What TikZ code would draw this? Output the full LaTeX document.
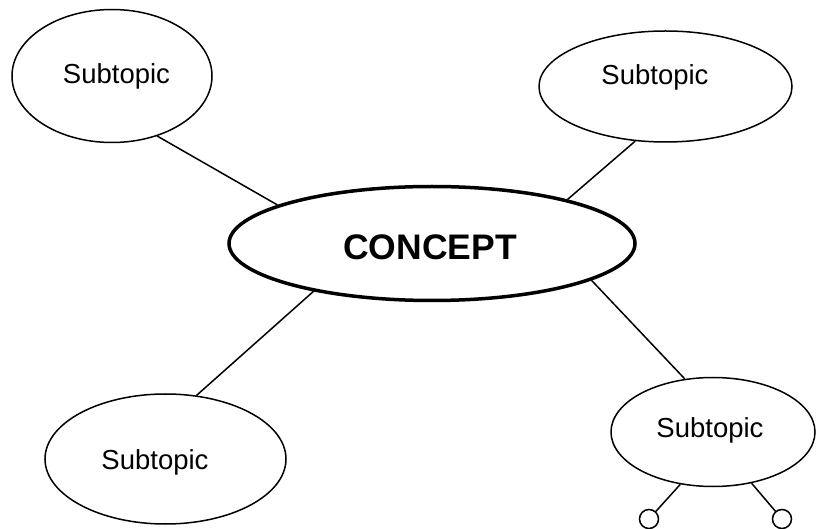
\documentclass[tikz,border=0pt]{standalone}
\usepackage{fontspec}
\setmainfont{Liberation Sans}
\usetikzlibrary{shapes.geometric}
\begin{document}
\begin{tikzpicture}[x=1pt,y=-1pt,
  subbox/.style={ellipse,draw,line width=1.5pt,inner sep=0pt},
  conceptbox/.style={ellipse,draw,line width=3.5pt,inner sep=0pt},
  subtext/.style={anchor=base,inner sep=0pt,font=\fontsize{27.5}{30}\selectfont},
  concepttext/.style={anchor=base,inner sep=0pt,font=\fontsize{35.5}{40}\selectfont\bfseries},
  link/.style={line width=1.5pt},
  knob/.style={circle,draw,line width=1.5pt,minimum size=19pt,inner sep=0pt}]
\useasboundingbox (0,0) rectangle (817,529);
\fill[white] (0,0) rectangle (817,529);
% nodes
\node[conceptbox,minimum width=406pt,minimum height=114pt] (c) at (432,243.5) {};
\node[concepttext] (ct) at (430,260) {CONCEPT};
\node[subbox,minimum width=200pt,minimum height=133pt] (tl) at (112,76) {};
\node[subtext] (tlt) at (116.5,84) {Subtopic};
\node[subbox,minimum width=253pt,minimum height=111pt] (tr) at (665.5,86.5) {};
\node[subtext] (trt) at (655,85) {Subtopic};
\node[subbox,minimum width=241pt,minimum height=130pt] (bl) at (165.5,459) {};
\node[subtext] (blt) at (155,469) {Subtopic};
\node[subbox,minimum width=204pt,minimum height=109pt] (br) at (713,432) {};
\node[subtext] (brt) at (710,437) {Subtopic};
\node[knob] (k1) at (649,519) {};
\node[knob] (k2) at (782,519) {};
% connectors
\draw[link] (tl.-53.6) -- (c.166.9);
\draw[link] (tr.-119) -- (c.18.5);
\draw[link] (bl.64) -- (c.202.8);
\draw[link] (br.118.6) -- (c.-13.3);
\draw[link] (br.-122.7) -- (k1);
\draw[link] (br.-53.8) -- (k2);
\end{tikzpicture}
\end{document}
